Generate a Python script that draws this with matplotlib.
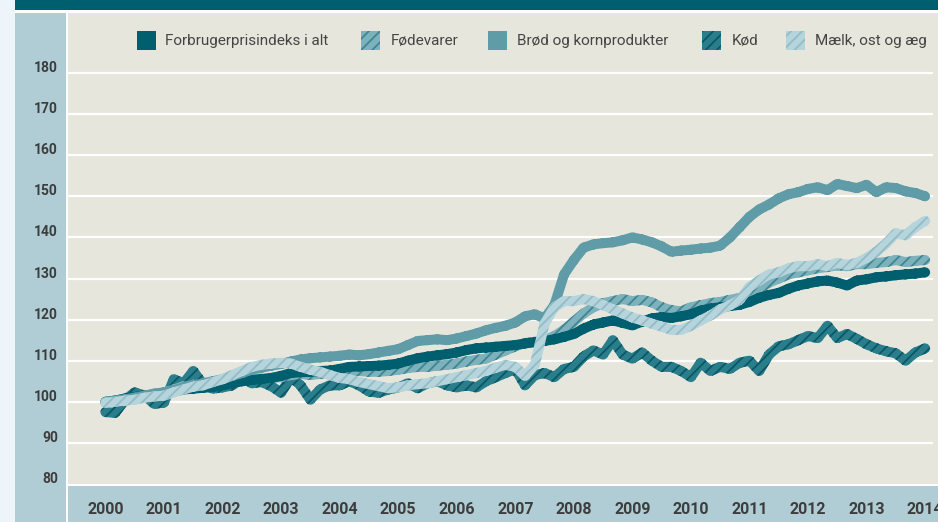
import numpy as np
import matplotlib
matplotlib.use("Agg")
import matplotlib.pyplot as plt
from matplotlib.patches import Rectangle, PathPatch
from matplotlib.path import Path
from matplotlib import transforms as mtransforms

# ---------------------------------------------------------------------------
# Data: price indices (2000 = 100), sampled every second month 2000-2014
# ---------------------------------------------------------------------------
start_year = 2000
steps_per_year = 6

total = [
    100.0, 100.3, 100.8, 101.2, 101.5, 101.8,
    102.0, 102.5, 103.0, 103.2, 103.4, 103.6,
    104.0, 104.5, 105.0, 105.3, 105.5, 105.8,
    106.3, 107.0, 107.2, 107.3, 107.5, 107.6,
    108.0, 108.5, 108.6, 108.7, 108.8, 109.0,
    109.3, 110.0, 110.6, 111.0, 111.3, 111.6,
    112.0, 112.6, 113.0, 113.2, 113.4, 113.6,
    113.8, 114.2, 114.5, 114.8, 115.2, 115.8,
    116.5, 117.8, 118.8, 119.3, 119.8, 119.2,
    118.6, 119.5, 120.3, 120.6, 120.4, 120.8,
    121.3, 122.2, 122.7, 123.0, 123.3, 123.6,
    124.3, 125.3, 126.0, 126.5, 127.5, 128.3,
    128.8, 129.3, 129.5, 129.0, 128.3, 129.5,
    129.8, 130.3, 130.5, 130.8, 131.0, 131.2,
    131.5,
]

broed = [
    100.0, 100.3, 100.6, 101.0, 101.5, 102.0,
    102.3, 102.8, 103.5, 104.0, 104.5, 105.0,
    105.5, 106.3, 107.0, 107.8, 108.3, 108.8,
    109.2, 109.8, 110.3, 110.6, 110.8, 111.0,
    111.2, 111.5, 111.3, 111.6, 112.0, 112.4,
    112.8, 113.8, 114.8, 115.0, 115.2, 115.0,
    115.4, 116.0, 116.6, 117.4, 118.0, 118.5,
    119.3, 120.8, 121.3, 120.3, 123.5, 131.0,
    134.5, 137.5, 138.3, 138.6, 138.8, 139.3,
    140.0, 139.5, 138.8, 137.8, 136.5, 136.8,
    137.0, 137.3, 137.5, 138.0, 140.0, 142.5,
    145.0, 146.8, 148.0, 149.5, 150.5, 151.0,
    151.8, 152.2, 151.5, 153.0, 152.5, 152.0,
    152.8, 151.0, 152.2, 152.0, 151.2, 150.8,
    150.0,
]

foedevarer = [
    99.8, 100.2, 100.8, 101.0, 101.3, 101.8,
    102.3, 103.0, 103.8, 104.0, 104.0, 104.2,
    104.5, 105.0, 105.5, 105.5, 105.6, 105.8,
    106.0, 106.5, 106.8, 106.5, 106.8, 107.0,
    107.2, 107.5, 107.5, 107.3, 107.3, 107.5,
    107.8, 108.2, 108.5, 108.5, 108.8, 109.0,
    109.3, 109.8, 110.2, 110.5, 111.5, 112.5,
    113.5, 114.3, 114.6, 115.0, 116.0, 117.5,
    119.5, 121.5, 123.0, 124.0, 124.5, 125.0,
    124.5, 124.8, 124.2, 123.0, 122.3, 122.0,
    123.0, 123.5, 124.0, 124.3, 124.8, 125.3,
    126.0, 127.5, 129.0, 130.0, 131.0, 131.5,
    132.0, 132.5, 132.8, 133.2, 133.0, 133.5,
    133.5, 133.8, 134.0, 134.5, 134.0, 134.3,
    134.5,
]

koed = [
    97.5, 97.3, 100.5, 102.3, 101.5, 99.5,
    99.8, 105.5, 104.5, 107.5, 104.3, 103.2,
    103.5, 104.0, 106.0, 104.5, 104.8, 103.8,
    102.2, 106.0, 104.0, 100.5, 103.0, 104.0,
    104.0, 105.0, 104.0, 102.5, 102.2, 103.0,
    103.5, 104.5, 103.3, 104.5, 105.0, 104.0,
    103.5, 104.0, 103.5, 105.0, 106.0, 107.0,
    108.0, 104.0, 106.5, 107.0, 106.0, 108.0,
    108.5, 111.0, 112.5, 111.5, 115.0, 111.5,
    110.5, 112.0, 110.0, 108.5, 108.5, 107.5,
    106.0, 109.5, 107.5, 108.5, 108.0, 109.5,
    110.0, 107.5, 111.5, 113.5, 114.0, 115.0,
    116.0, 115.5, 118.5, 115.5, 116.5, 115.3,
    114.0, 113.0, 112.3, 111.8, 110.0, 112.0,
    113.0,
]

maelk = [
    99.8, 100.0, 100.3, 100.5, 101.0, 101.3,
    101.5, 102.3, 103.0, 103.7, 104.0, 104.8,
    105.5, 106.5, 107.5, 108.5, 109.0, 109.3,
    109.5, 109.3, 108.5, 107.8, 107.3, 106.5,
    105.8, 105.5, 104.8, 104.3, 103.8, 103.3,
    103.5, 104.0, 104.3, 104.5, 105.0, 105.5,
    106.0, 106.5, 107.0, 107.5, 108.3, 109.0,
    108.5, 106.3, 109.0, 119.0, 123.0, 124.5,
    124.5, 125.0, 124.5, 123.5, 122.5, 121.5,
    120.5, 119.8, 119.0, 118.3, 117.5, 117.5,
    118.5, 119.8, 121.0, 122.5, 123.5, 124.8,
    128.0, 129.5, 131.0, 131.5, 132.5, 133.0,
    133.0, 133.5, 133.0, 133.8, 133.3, 133.8,
    135.0, 136.5, 138.5, 141.0, 140.5, 142.5,
    144.0,
]

t = start_year + np.arange(len(total)) / steps_per_year

year_ticks = list(range(2000, 2015))
year_labels = [str(y) for y in year_ticks]
value_ticks = list(range(80, 190, 10))
value_labels = [str(v) for v in value_ticks]

labels = ["Forbrugerprisindeks i alt", "Fødevarer", "Brød og kornprodukter",
          "Kød", "Mælk, ost og æg"]

# ---------------------------------------------------------------------------
# Styling
# ---------------------------------------------------------------------------
C_DARK = "#005f6e"
C_BROED = "#5f9ca8"
C_PANEL = "#b0cdd5"
C_PLOT = "#e6e6dc"
C_TEXT = "#3d3d3d"

styles = {
    "total": dict(face=C_DARK, hatch=None, hcol=None),
    "foede": dict(face="#7db1bb", hatch="///", hcol="#3e8693"),
    "broed": dict(face=C_BROED, hatch=None, hcol=None),
    "koed": dict(face="#2a7e8b", hatch="///", hcol="#0a5865"),
    "maelk": dict(face="#b6d4dc", hatch="///", hcol="#93bcc7"),
}

plt.rcParams["hatch.linewidth"] = 1.3
plt.rcParams["font.family"] = ["Roboto", "DejaVu Sans"]

W, H = 938, 522
fig = plt.figure(figsize=(W / 100, H / 100), dpi=100, facecolor="#eef5fa")


def fig_rect(x0, y0, x1, y1, color, **kw):
    """Rectangle given in pixel coordinates measured from the top-left."""
    r = Rectangle((x0 / W, 1 - y1 / H), (x1 - x0) / W, (y1 - y0) / H,
                  transform=fig.transFigure, facecolor=color,
                  edgecolor="none", zorder=0, **kw)
    fig.add_artist(r)
    return r


# frame: white base, title bar, side panel and year strip
fig_rect(15, 10, W, H, "white")
fig_rect(15, 0, W, 10, C_DARK)
fig_rect(15, 13, 66, H, C_PANEL)
fig_rect(68, 486, W, H, C_PANEL)

ax = fig.add_axes([68 / W, (H - 484) / H, 870 / W, 471 / H])
ax.set_facecolor(C_PLOT)
for s in ax.spines.values():
    s.set_visible(False)
ax.set_xticks([])
ax.set_yticks([])

ax.set_xlim(1999.36, 2014.22)
ax.set_ylim(80, 194.6)

# horizontal grid
for v in value_ticks[1:]:
    ax.axhline(v, xmin=0, xmax=0.993, color="white", lw=1.6, zorder=1)

# value labels in the side panel
ytrans = mtransforms.offset_copy(ax.get_yaxis_transform(), fig=fig,
                                 x=-10, y=5, units="dots")
for v, lab in zip(value_ticks, value_labels):
    ax.text(0, v, lab, transform=ytrans, ha="right", va="center",
            fontsize=10, fontweight="bold", color=C_TEXT, clip_on=False)

# year labels in the bottom strip
xtrans = mtransforms.offset_copy(ax.get_xaxis_transform(), fig=fig,
                                 x=0, y=-25, units="dots")
for yv, lab in zip(year_ticks, year_labels):
    ax.text(yv, 0, lab, transform=xtrans, ha="center", va="center",
            fontsize=11.5, fontweight="bold", color=C_TEXT, clip_on=False)


def stroke_path(x, y, width_px):
    """Outline of a thick polyline (round joins) as one compound path."""
    pts = ax.transData.transform(np.column_stack([x, y]))
    hw = width_px / 2.0
    verts, codes = [], []
    for p0, p1 in zip(pts[:-1], pts[1:]):
        d = p1 - p0
        n = np.array([-d[1], d[0]]) / np.hypot(*d) * hw
        quad = [p0 - n, p1 - n, p1 + n, p0 + n]
        verts += quad + [quad[0]]
        codes += [Path.MOVETO] + [Path.LINETO] * 3 + [Path.CLOSEPOLY]
    ang = np.linspace(0, 2 * np.pi, 18, endpoint=False)
    circ = np.column_stack([np.cos(ang), np.sin(ang)]) * hw
    for p in pts:
        c = list(p + circ)
        verts += c + [c[0]]
        codes += [Path.MOVETO] + [Path.LINETO] * (len(c) - 1) + [Path.CLOSEPOLY]
    verts = ax.transData.inverted().transform(np.array(verts))
    return Path(verts, codes)


def draw_series(values, key, z, width_px=10):
    st = styles[key]
    path = stroke_path(t, np.asarray(values, float), width_px)
    patch = PathPatch(path, facecolor=st["face"],
                      edgecolor=st["hcol"] if st["hatch"] else "none",
                      hatch=st["hatch"], linewidth=0, zorder=z)
    ax.add_patch(patch)


draw_series(koed, "koed", 3)
draw_series(foedevarer, "foede", 4)
draw_series(total, "total", 5)
draw_series(broed, "broed", 6)
draw_series(maelk, "maelk", 7)

# legend row
legend_items = [
    ("total", 137, 165),
    ("foede", 361, 391),
    ("broed", 488, 517),
    ("koed", 702, 732),
    ("maelk", 786, 815),
]
for (key, sx, tx), lab in zip(legend_items, labels):
    st = styles[key]
    r = Rectangle((sx / W, 1 - 50 / H), 19 / W, 19 / H,
                  transform=fig.transFigure, facecolor=st["face"],
                  edgecolor=st["hcol"] if st["hatch"] else "none",
                  hatch=st["hatch"], linewidth=0, zorder=5)
    fig.add_artist(r)
    fig.text(tx / W, 1 - 41 / H, lab, ha="left", va="center",
             fontsize=11, color="#454545", zorder=5)

fig.savefig("out.png", dpi=100, facecolor=fig.get_facecolor())
